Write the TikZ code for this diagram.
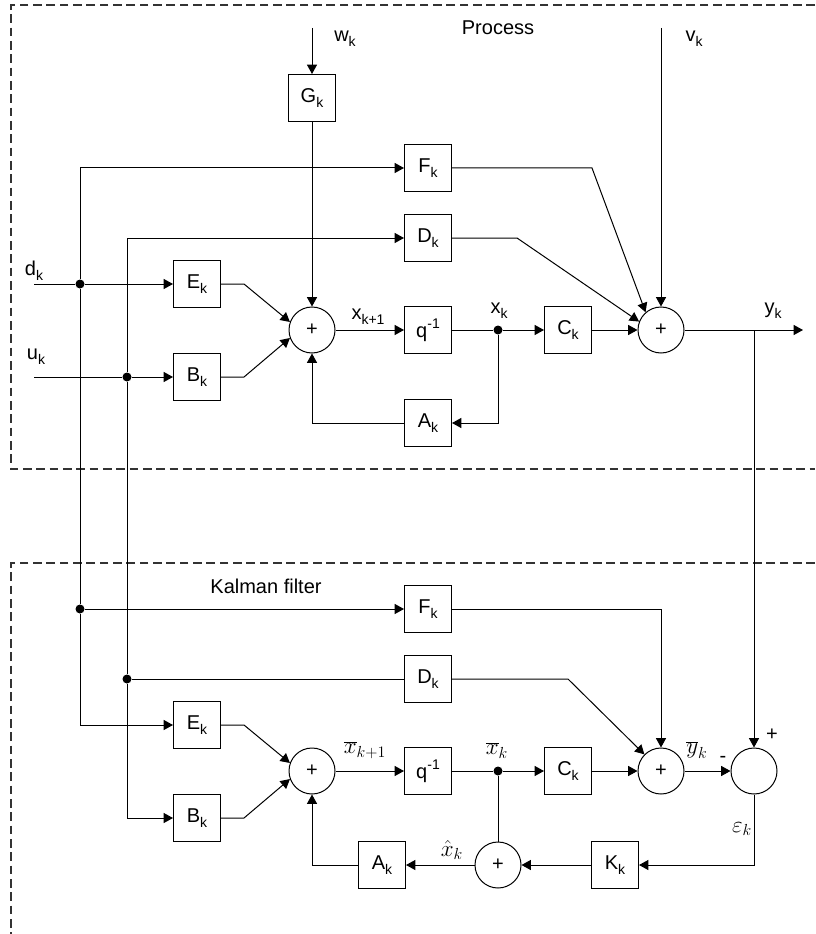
\documentclass[tikz,border=0pt]{standalone}
\usepackage{fontspec}
\setmainfont{Liberation Sans}
\usetikzlibrary{
	positioning,
	arrows.meta
}
\newcommand{\lo}[1]{\raisebox{-0.5ex}{\fontsize{10.5}{12}\selectfont #1}}
\newcommand{\hi}[1]{\raisebox{0.85ex}{\fontsize{10.5}{12}\selectfont #1}}

\begin{document}
\begin{tikzpicture}[
				x=0.75pt,
				y=-0.75pt,
				line width=0.75pt,
				every node/.style={
					font=\fontsize{15}{18}\selectfont
				},
				block/.style={
					draw,
					inner sep=0pt,
					minimum size=35.25pt
				},
				summer/.style={
					draw,
					circle,
					inner sep=0pt,
					minimum size=34.5pt
				},
				junction/.style={
					circle,
					fill,
					inner sep=0pt,
					minimum size=6.75pt
				},
				mathlbl/.style={
					font=\fontsize{17}{20}\selectfont
				},
				sig/.style={
					-{Triangle[length=7pt,width=7.5pt]}
				},
				frame/.style={
					dashed,
					dash pattern=on 6.5pt off 3.5pt,
					line width=0.9pt,
					black!80
				}
				]
				
				\useasboundingbox (0,0) rectangle (815,934);
				
				% dashed frames
				\draw[frame] (815,5) -- (11,5) -- (11,469) -- (815,469);
				\draw[frame] (815,563) -- (11,563) -- (11,934);
				
				% process
				\node at (498,28) (proc) {Process};
				\coordinate (win) at (312,28);
				\coordinate (vin) at (661,28);
				\coordinate (din) at (34,284);
				\coordinate (uin) at (34,377);
				
				\node[block] at (312,98) (G1) {G\lo{k}};
				\node[block] at (428,168) (F1) {F\lo{k}};
				\node[block] at (428,238) (D1) {D\lo{k}};
				\node[block] at (197,284) (E1) {E\lo{k}};
				\node[block] at (197,377) (B1) {B\lo{k}};
				\node[summer] at (312,330) (S1) {+};
				\node[block] at (428,330) (Q1) {q\hi{-1}};
				\node[block] at (428,423) (A1) {A\lo{k}};
				\node[junction] at (498,330) (X1) {};
				\node[block] at (568,330) (C1) {C\lo{k}};
				\node[summer] at (661,330) (S2) {+};
				\coordinate (yout) at (803,330);
				\coordinate (ybr) at (754,330);
				
				\node[junction] at (80,284) (dd) {};
				\node[junction] at (127,377) (ud) {};
				
				\node at (345,39) (wlab) {w\lo{k}};
				\node at (694,39) (vlab) {v\lo{k}};
				\node at (34,271) (dlab) {d\lo{k}};
				\node at (36,357) (ulab) {u\lo{k}};
				\node at (368,317) (x1lab) {x\lo{k+1}};
				\node at (499,311) (xlab) {x\lo{k}};
				\node at (773,311) (ylab) {y\lo{k}};
				
				\draw[sig] (win) -- (G1);
				\draw[sig] (G1) -- (S1);
				\draw[sig] (vin) -- (S2);
				\draw (din) -- (dd);
				\draw[sig] (dd) -- (E1);
				\draw (uin) -- (ud);
				\draw[sig] (ud) -- (B1);
				\draw[sig] (dd) |- (F1);
				\draw[sig] (ud) |- (D1);
				\draw[sig] (E1.east) -- ++(23,0) -- (S1.160);
				\draw[sig] (B1.east) -- ++(23,0) -- (S1.200);
				\draw[sig] (S1) -- (Q1);
				\draw (Q1) -- (X1);
				\draw[sig] (X1) -- (C1);
				\draw[sig] (X1) |- (A1);
				\draw[sig] (A1) -| (S1);
				\draw[sig] (C1) -- (S2);
				\draw[sig] (F1.east) -- ++(140,0) -- (S2.131);
				\draw[sig] (D1.east) -- ++(65,0) -- (S2.159);
				\draw[sig] (S2) -- (yout);
				
				% kalman filter
				\node at (266,586) (kal) {Kalman filter};
				
				\node[junction] at (80,609) (fd) {};
				\node[junction] at (127,679) (gd) {};
				\node[block] at (428,609) (F2) {F\lo{k}};
				\node[block] at (428,679) (D2) {D\lo{k}};
				\node[block] at (197,725) (E2) {E\lo{k}};
				\node[block] at (197,818) (B2) {B\lo{k}};
				\node[summer] at (312,771) (S3) {+};
				\node[block] at (428,771) (Q2) {q\hi{-1}};
				\node[junction] at (498,771) (X2) {};
				\node[block] at (568,771) (C2) {C\lo{k}};
				\node[summer] at (661,771) (S4) {+};
				\node[summer] at (754,771) (S5) {};
				\node[block] at (615,865) (K1) {K\lo{k}};
				\node[summer] at (498,865) (S6) {+};
				\node[block] at (382,865) (A2) {A\lo{k}};
				
				\node[mathlbl] at (365,750) (xb1lab) {$\overline{x}_{k+1}$};
				\node[mathlbl] at (497,750) (xblab) {$\overline{x}_{k}$};
				\node[mathlbl] at (697,750) (yblab) {$\overline{y}_{k}$};
				\node at (723,759) (minus) {-};
				\node at (772,735) (plus) {+};
				\node[mathlbl] at (742,829) (elab) {$\varepsilon_{k}$};
				\node[mathlbl] at (452,850) (xhlab) {$\hat{x}_{k}$};
				
				\draw (dd) -- (fd);
				\draw (ud) -- (gd);
				\draw[sig] (fd) -- (F2);
				\draw (gd) -- (D2);
				\draw[sig] (fd) |- (E2);
				\draw[sig] (gd) |- (B2);
				\draw[sig] (E2.east) -- ++(23,0) -- (S3.160);
				\draw[sig] (B2.east) -- ++(23,0) -- (S3.200);
				\draw[sig] (S3) -- (Q2);
				\draw (Q2) -- (X2);
				\draw[sig] (X2) -- (C2);
				\draw[sig] (C2) -- (S4);
				\draw[sig] (F2) -| (S4);
				\draw[sig] (D2.east) -- ++(116,0) -- (S4.135);
				\draw[sig] (S4) -- (S5);
				\draw[sig] (ybr) -- (S5);
				\draw[sig] (S5) |- (K1);
				\draw[sig] (K1) -- (S6);
				\draw (X2) -- (S6);
				\draw[sig] (S6) -- (A2);
				\draw[sig] (A2) -| (S3);
				
			\end{tikzpicture}
\end{document}
